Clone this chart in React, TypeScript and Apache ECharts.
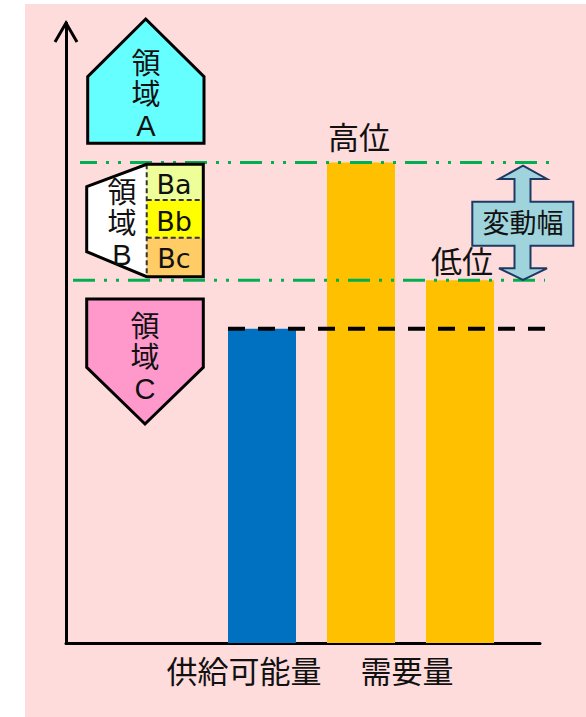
import React, { useEffect, useRef } from "react";
import * as echarts from "echarts";

// ---- data ----
const barCategories = ["供給可能量", "需要量（高位）", "需要量（低位）"];
const barValues = [50.7, 77.5, 58.5];
const barLabels = ["", "高位", "低位"];
const axisLabels = ["供給可能量", "需要量", ""];
const supplyValue = 50.7;
const demandHigh = 77.5;
const demandLow = 58.5;
const regionALines = ["領", "域", "A"];
const regionBLines = ["領", "域", "B"];
const regionCLines = ["領", "域", "C"];
const subRegions = ["Ba", "Bb", "Bc"];
const rangeLabel = "変動幅";

// ---- styles ----
const FONT = '"Liberation Sans", "Noto Sans CJK JP", sans-serif';
const FONT2 = '"DejaVu Sans", "Noto Sans CJK JP", sans-serif';
const PINK = "#FFDCDC";
const barColors = ["#0070C0", "#FFC000", "#FFC000"];
const TXT = "#111111";

export default function App() {
  const ref = useRef<HTMLDivElement>(null);
  useEffect(() => {
    if (!ref.current) return;
    const chart = echarts.init(ref.current, undefined, { renderer: "svg" });

    const axisStyle = { color: "#000", width: 3 };
    const hiddenValueAxis = (grid: number, max: number) => ({
      type: "value",
      gridIndex: grid,
      min: 0,
      max,
      show: false,
    });

    const textEl = (text: string, x: number, y: number, size: number, lineHeight?: number, family = FONT) => ({
      type: "text",
      x,
      y,
      z: 20,
      style: {
        text,
        fill: TXT,
        fontSize: size,
        fontFamily: family,
        align: "center",
        verticalAlign: "middle",
        lineHeight: lineHeight || size * 1.2,
      },
    });

    const dashStroke = { stroke: "#333", lineWidth: 2, lineDash: [5, 3] };

    const option: any = {
      animation: false,
      backgroundColor: PINK,
      textStyle: { fontFamily: FONT },
      grid: [
        { left: 212.5, right: 76.5, top: 23, bottom: 74 },
        { left: 66, right: 46, top: 23, bottom: 74 },
        { left: 0, right: 0, top: 23, bottom: 74 },
      ],
      xAxis: [
        {
          type: "category",
          gridIndex: 0,
          data: barCategories,
          axisLine: { show: false },
          axisTick: { show: false },
          splitLine: { show: false },
          axisLabel: {
            interval: 0,
            margin: 14,
            formatter: (_v: string, i: number) =>
              axisLabels[i] ? `{c${i}|${axisLabels[i]}}` : "",
            rich: {
              c0: { fontSize: 31, color: TXT, fontFamily: FONT, padding: [0, 36, 0, 0] },
              c1: { fontSize: 31, color: TXT, fontFamily: FONT, padding: [0, 0, 0, 92] },
            },
          },
        },
        {
          type: "value",
          gridIndex: 1,
          min: 0,
          max: 1,
          axisLine: { show: true, onZero: false, lineStyle: axisStyle },
          axisTick: { show: false },
          axisLabel: { show: false },
          splitLine: { show: false },
        },
        hiddenValueAxis(2, 586),
      ],
      yAxis: [
        hiddenValueAxis(0, 100),
        {
          type: "value",
          gridIndex: 1,
          min: 0,
          max: 100,
          axisLine: { show: true, onZero: false, lineStyle: axisStyle },
          axisTick: { show: false },
          axisLabel: { show: false },
          splitLine: { show: false },
        },
        hiddenValueAxis(2, 100),
      ],
      series: [
        {
          type: "bar",
          xAxisIndex: 0,
          yAxisIndex: 0,
          barWidth: 68,
          z: 2,
          label: {
            show: true,
            position: "top",
            fontSize: 31,
            color: TXT,
            fontFamily: FONT,
          },
          data: barValues.map((v, i) => ({
            value: v,
            itemStyle: { color: barColors[i] },
            label: {
              show: !!barLabels[i],
              formatter: barLabels[i],
              distance: i === 1 ? 9 : 2,
              offset: [i === 1 ? -2 : 2, 0],
            },
          })),
        },
        {
          type: "line",
          xAxisIndex: 2,
          yAxisIndex: 2,
          z: 5,
          symbol: "none",
          silent: true,
          lineStyle: { color: "#00B050", width: 3, type: [22, 9, 3, 9, 3, 9], dashOffset: 5 },
          data: [
            [80, demandHigh],
            [552, demandHigh],
          ],
        },
        {
          type: "line",
          xAxisIndex: 2,
          yAxisIndex: 2,
          z: 5,
          symbol: "none",
          silent: true,
          lineStyle: { color: "#00B050", width: 3, type: [22, 9, 3, 9, 3, 9] },
          data: [
            [73, demandLow],
            [545, demandLow],
          ],
        },
        {
          type: "line",
          xAxisIndex: 2,
          yAxisIndex: 2,
          z: 5,
          symbol: "none",
          silent: true,
          lineStyle: { color: "#000", width: 4, type: [17, 13] },
          data: [
            [228, supplyValue],
            [546, supplyValue],
          ],
        },
      ],
      graphic: [
        // white margins outside the pink panel
        { type: "rect", z: 1, shape: { x: 0, y: 0, width: 25, height: 717 }, style: { fill: "#fff" } },
        { type: "rect", z: 1, shape: { x: 0, y: 0, width: 586, height: 4 }, style: { fill: "#fff" } },
        // y-axis arrow head
        {
          type: "polyline",
          z: 10,
          shape: { points: [[55, 42], [66, 23], [77, 42]] },
          style: { stroke: "#000", lineWidth: 3, fill: null },
        },
        // Region A pentagon
        {
          type: "polygon",
          z: 10,
          shape: { points: [[145.7, 19], [204, 76.7], [204, 143.3], [87.7, 143.3], [87.7, 76.7]] },
          style: { fill: "#66FFFF", stroke: "#000", lineWidth: 3 },
        },
        textEl(regionALines.join("\n"), 146, 95, 29, 31),
        // Region B
        {
          type: "polygon",
          z: 10,
          shape: { points: [[86.7, 186.7], [146.7, 164.3], [146.7, 276.7], [86.7, 251.7]] },
          style: { fill: "#FFFFFF" },
        },
        { type: "rect", z: 10, shape: { x: 146.7, y: 164.3, width: 56.6, height: 35.7 }, style: { fill: "#EEFF99" } },
        { type: "rect", z: 10, shape: { x: 146.7, y: 200, width: 56.6, height: 37.7 }, style: { fill: "#FFFF00" } },
        { type: "rect", z: 10, shape: { x: 146.7, y: 237.7, width: 56.6, height: 39 }, style: { fill: "#FFCC66" } },
        { type: "line", z: 11, shape: { x1: 146.7, y1: 164.3, x2: 146.7, y2: 276.7 }, style: dashStroke },
        { type: "line", z: 11, shape: { x1: 146.7, y1: 200, x2: 203.3, y2: 200 }, style: dashStroke },
        { type: "line", z: 11, shape: { x1: 146.7, y1: 237.7, x2: 203.3, y2: 237.7 }, style: dashStroke },
        {
          type: "polygon",
          z: 12,
          shape: {
            points: [[86.7, 186.7], [146.7, 164.3], [203.3, 164.3], [203.3, 276.7], [146.7, 276.7], [86.7, 251.7]],
          },
          style: { fill: null, stroke: "#000", lineWidth: 3 },
        },
        textEl(regionBLines.join("\n"), 122, 224, 29, 31),
        textEl(subRegions[0], 174, 184, 27, undefined, FONT2),
        textEl(subRegions[1], 174, 221, 27, undefined, FONT2),
        textEl(subRegions[2], 174, 258, 27, undefined, FONT2),
        // Region C pentagon
        {
          type: "polygon",
          z: 10,
          shape: { points: [[86.7, 299], [203.3, 299], [203.3, 367.3], [145, 424], [86.7, 367.3]] },
          style: { fill: "#FF99CC", stroke: "#000", lineWidth: 3 },
        },
        textEl(regionCLines.join("\n"), 145, 357.5, 29, 31),
        // range double arrow
        {
          type: "polygon",
          z: 10,
          shape: {
            points: [
              [523, 165.7], [547, 179], [530.5, 179], [530.5, 201.7], [573.3, 201.7], [573.3, 245.7],
              [530.5, 245.7], [530.5, 268.3], [547, 268.3], [523, 280], [499, 268.3], [514.5, 268.3],
              [514.5, 245.7], [472.3, 245.7], [472.3, 201.7], [514.5, 201.7], [514.5, 179], [499, 179],
            ],
          },
          style: { fill: "#9FD4DC", stroke: "#1F3864", lineWidth: 2 },
        },
        textEl(rangeLabel, 523, 223.5, 27),
      ],
    };

    chart.setOption(option);
    return () => chart.dispose();
  }, []);

  return (
    <div
      ref={ref}
      style={{ position: "fixed", left: 0, top: 0, width: 586, height: 717 }}
    />
  );
}
